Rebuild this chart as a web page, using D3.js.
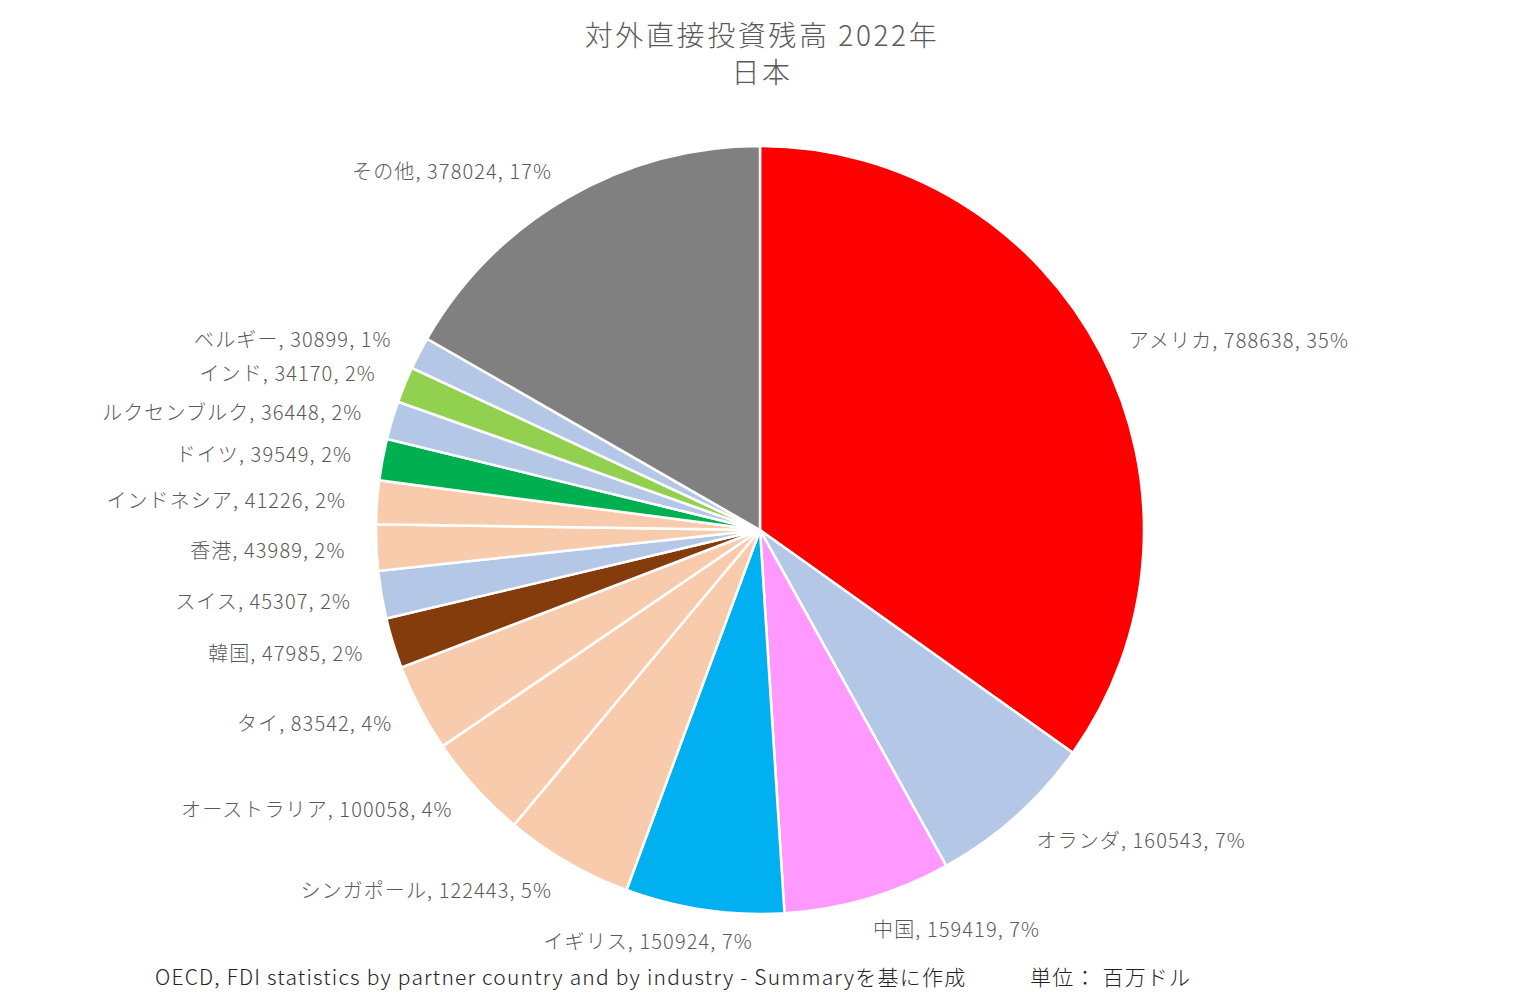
<!DOCTYPE html>
<html>
<head>
<meta charset="utf-8">
<script src="https://cdn.jsdelivr.net/npm/d3@7"></script>
<style>
  body { margin: 0; background: #fff; }
  text { font-family: "Noto Sans CJK JP", "Noto Sans", sans-serif; font-weight: 300; }
</style>
</head>
<body>
<div id="chart"></div>
<script>
// data, clockwise from 12 o'clock
const countries = ["アメリカ", "オランダ", "中国", "イギリス", "シンガポール", "オーストラリア", "タイ", "韓国",
  "スイス", "香港", "インドネシア", "ドイツ", "ルクセンブルク", "インド", "ベルギー", "その他"];
const values = [788638, 160543, 159419, 150924, 122443, 100058, 83542, 47985,
  45307, 43989, 41226, 39549, 36448, 34170, 30899, 378024];
const colors = ["#ff0000", "#b4c7e7", "#ff99ff", "#00b0f0", "#f8cbad", "#f8cbad", "#f8cbad", "#843c0c",
  "#b4c7e7", "#f8cbad", "#f8cbad", "#00b050", "#b4c7e7", "#92d050", "#b4c7e7", "#808080"];

const width = 1524, height = 995;
const cx = 760, cy = 530, radius = 384, labelR = 415;

const svg = d3.select("#chart").append("svg")
  .attr("width", width)
  .attr("height", height);

// title
svg.append("text")
  .attr("x", 762).attr("y", 46)
  .attr("text-anchor", "middle")
  .attr("font-size", 28)
  .attr("letter-spacing", 2.6)
  .attr("fill", "#595959")
  .text("対外直接投資残高 2022年");
svg.append("text")
  .attr("x", 762).attr("y", 83)
  .attr("text-anchor", "middle")
  .attr("font-size", 28)
  .attr("letter-spacing", 2.6)
  .attr("fill", "#595959")
  .text("日本");

const total = d3.sum(values);
const data = countries.map((c, i) => ({ name: c, value: values[i], color: colors[i] }));

const pie = d3.pie().value(d => d.value).sort(null);
const arc = d3.arc().innerRadius(0).outerRadius(radius);
const arcs = pie(data);

const graph = svg.append("g").attr("transform", `translate(${cx}, ${cy})`);

graph.selectAll("path")
  .data(arcs)
  .enter()
  .append("path")
  .attr("d", arc)
  .attr("fill", d => d.data.color)
  .attr("stroke", "#fff")
  .attr("stroke-width", 2.5);

// labels, excel style "name, value, pct"
const labels = graph.selectAll("text.lbl")
  .data(arcs)
  .enter()
  .append("text")
  .attr("class", "lbl")
  .attr("font-size", 20)
  .attr("letter-spacing", 1.1)
  .attr("fill", "#595959")
  .attr("dominant-baseline", "central")
  .text(d => `${d.data.name}, ${d.data.value}, ${Math.round(d.data.value / total * 100)}%`);

labels.each(function (d) {
  const a = (d.startAngle + d.endAngle) / 2;
  const s = Math.sin(a), c = Math.cos(a);
  const px = labelR * s, py = -labelR * c;
  const w = this.getComputedTextLength();
  // near the bottom the box slides over the point
  const k = Math.max(-1, Math.min(1, s * 3.4));
  const left = px - w / 2 + k * w / 2;
  d3.select(this).attr("x", left).attr("y", py);
});

// footer
svg.append("text")
  .attr("x", 155).attr("y", 985)
  .attr("font-size", 21)
  .attr("font-weight", 400)
  .attr("letter-spacing", 1.2)
  .attr("fill", "#222")
  .text("OECD, FDI statistics by partner country and by industry - Summaryを基に作成");
svg.append("text")
  .attr("x", 1030).attr("y", 985)
  .attr("font-size", 21)
  .attr("font-weight", 400)
  .attr("letter-spacing", 1.2)
  .attr("fill", "#222")
  .text("単位： 百万ドル");
</script>
</body>
</html>
